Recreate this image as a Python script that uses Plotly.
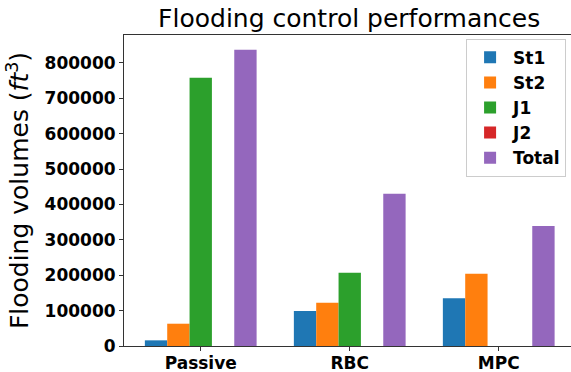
import plotly.graph_objects as go

categories = ["Passive", "RBC", "MPC"]
series_names = ["St1", "St2", "J1", "J2", "Total"]
st1 = [16000, 99000, 135000]
st2 = [63000, 122000, 204000]
j1 = [758000, 207000, 0]
j2 = [0, 0, 0]
total = [837000, 430000, 339000]
colors = ["#1f77b4", "#ff7f0e", "#2ca02c", "#d62728", "#9467bd"]
yticks = [0, 100000, 200000, 300000, 400000, 500000, 600000, 700000, 800000]

values = [st1, st2, j1, j2, total]
fig = go.Figure()
for name, vals, c in zip(series_names, values, colors):
    fig.add_trace(go.Bar(x=categories, y=vals, name=name, marker_color=c,
                         marker_line_width=0))

font_family = "DejaVu Sans"
fig.update_layout(
    width=571, height=372,
    margin=dict(l=124, r=0, t=35, b=26, autoexpand=False),
    paper_bgcolor="white", plot_bgcolor="white",
    barmode="group", bargap=0.25, bargroupgap=0,
    font=dict(family=font_family, color="black"),
    title=dict(text="Flooding control performances", x=0.6115, xanchor="center",
               y=0.95, yanchor="middle", font=dict(size=25, family=font_family)),
    showlegend=True,
    legend=dict(x=0.989, xanchor="right", y=0.988, yanchor="top",
                bordercolor="#cccccc", borderwidth=1, bgcolor="rgba(255,255,255,0.8)",
                font=dict(size=17, family="DejaVu Sans", weight="bold"),
                tracegroupgap=0, itemwidth=36),
)
fig.update_xaxes(
    type="category", range=[-0.515, 2.485], automargin=False,
    showline=True, linecolor="#333333", linewidth=1, mirror=True,
    ticks="outside", ticklen=4, tickcolor="#333333",
    tickfont=dict(size=17, family=font_family, weight="bold"),
    ticklabelstandoff=-2,
    showgrid=False, zeroline=False,
)
fig.update_yaxes(
    range=[0, 879000], tickvals=yticks, ticktext=[str(v) for v in yticks],
    automargin=False,
    showline=True, linecolor="#333333", linewidth=1, mirror=False,
    ticks="outside", ticklen=4, tickcolor="#333333",
    tickfont=dict(size=17, family=font_family, weight="bold"),
    showgrid=False, zeroline=False,
    title=dict(text="Flooding volumes (<i>ft</i><sup>3</sup>)",
               font=dict(size=25, family=font_family), standoff=8),
)
fig.write_html("out.html", config={"displayModeBar": False},
               post_script="document.body.style.margin='0';")
